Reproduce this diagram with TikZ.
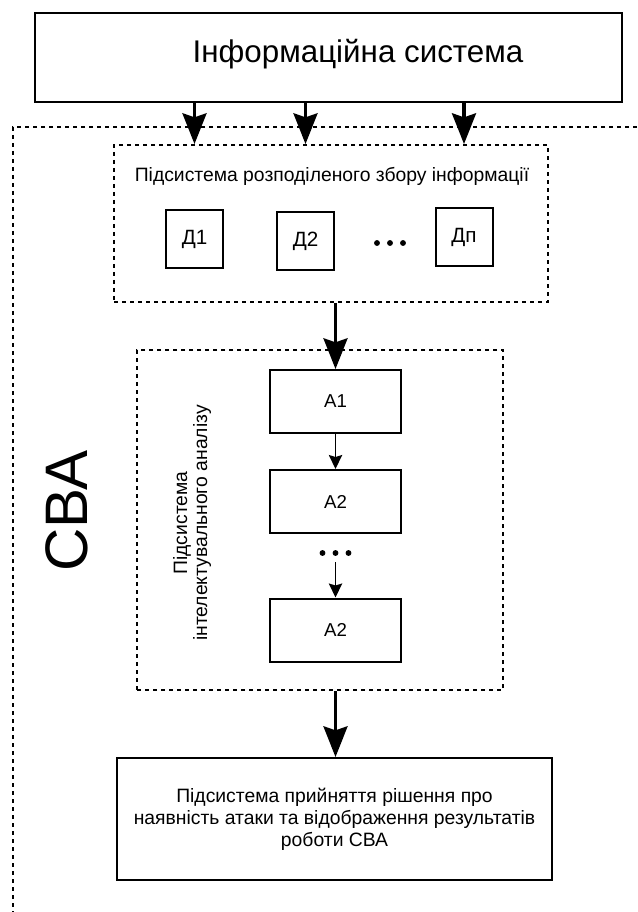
\documentclass[tikz,border=0pt]{standalone}
\usepackage{fontspec}
\setmainfont{Liberation Sans}
\usetikzlibrary{arrows.meta}

\tikzset{every picture/.style={line width=0.75pt}}
\tikzset{
  solidbox/.style={draw, line width=1.5pt, inner sep=0pt},
  dotbox/.style={draw, line width=1.5pt, dash pattern={on 3pt off 3pt}, inner sep=0pt},
  dotline/.style={line width=1.5pt, dash pattern={on 3pt off 3pt}},
  sensorbox/.style={solidbox, minimum width=42.75pt, minimum height=43.5pt, font=\fontsize{15.5}{17}\selectfont},
  stagebox/.style={solidbox, minimum width=98.25pt, minimum height=47.25pt, font=\fontsize{14}{16}\selectfont},
  bigarrow/.style={line width=2.5pt, -{Stealth[length=23pt,width=18pt,inset=3pt]}},
  smallarrow/.style={line width=1.1pt, -{Stealth[length=10.5pt,width=10pt,inset=1.5pt]}},
}

\begin{document}
\begin{tikzpicture}[x=0.75pt,y=0.75pt,yscale=-1,xscale=1]
    \useasboundingbox (0,0) rectangle (637,912);

    %Shape: Rectangle (information system)
    \node[solidbox, line width=2pt, minimum width=440.25pt, minimum height=66.75pt] (infosys) at (328.5,57.5) {};
    % Text Node
    \node[anchor=base, font=\fontsize{23.5}{27}\selectfont] (infotitle) at (358,63) {Інформаційна система};

    %Straight Lines (outer frame of the IDS)
    \draw[dotline] (637,127) -- (13,127) -- (13,912);
    % Text Node
    \node[rotate=90, font=\fontsize{45}{50}\selectfont] (cba) at (67,511) {СВА};

    %Shape: Rectangle (collection subsystem)
    \node[dotbox, minimum width=325.5pt, minimum height=117.75pt] (collect) at (331,223.5) {};
    % Text Node
    \node[anchor=base, font=\fontsize{14.5}{17}\selectfont] (collecttitle) at (332,182) {Підсистема розподіленого збору інформації};
    \node[sensorbox] (d1) at (194.5,239) {Д1};
    \node[sensorbox] (d2) at (305.5,241) {Д2};
    \node[sensorbox] (dn) at (464,237.5) {Дп};
    \foreach \dx in {-13,0,13}
      \filldraw (390+\dx,243) circle (2.4);

    %Straight Lines (inputs)
    \draw[bigarrow] (infosys.south -| d1) -- (collect.north -| d1);
    \draw[bigarrow] (infosys.south -| d2) -- (collect.north -| d2);
    \draw[bigarrow] (infosys.south -| dn) -- (collect.north -| dn);

    %Shape: Rectangle (analysis subsystem)
    \node[dotbox, minimum width=274.5pt, minimum height=255pt] (analysis) at (320,520) {};
    % Text Node
    \node[rotate=90, align=center, font=\fontsize{14.5}{15}\selectfont] (analysistitle) at (192,523) {Підсистема\\інтелектувального аналізу};
    \node[stagebox] (a1) at (335.5,401.5) {А1};
    \node[stagebox] (a2) at (335.5,501.5) {А2};
    \node[stagebox] (a3) at (335.5,630) {А2};
    \foreach \dx in {-13,0,13}
      \filldraw (335.5+\dx,553) circle (2.4);
    \coordinate (dotsout) at (335.5,562);

    \draw[bigarrow] (collect.south -| a1) -- (a1.north);
    \draw[smallarrow] (a1) -- (a2);
    \draw[smallarrow] (dotsout) -- (a3.north);

    %Shape: Rectangle (decision subsystem)
    \node[solidbox, minimum width=326.25pt, minimum height=91.5pt, align=center, font=\fontsize{14.5}{16.5}\selectfont] (decision) at (334.5,819) {Підсистема прийняття рішення про\\наявність атаки та відображення результатів\\роботи СВА};
    \draw[bigarrow] (analysis.south -| a3) -- (decision.north -| a3);

\end{tikzpicture}
\end{document}
